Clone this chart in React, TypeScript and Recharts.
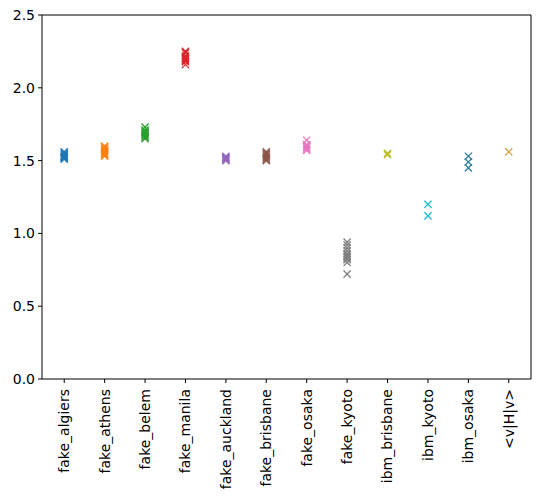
import { ScatterChart, Scatter, XAxis, YAxis, ReferenceLine } from 'recharts';

const backends = [
  'fake_algiers', 'fake_athens', 'fake_belem', 'fake_manila', 'fake_auckland', 'fake_brisbane',
  'fake_osaka', 'fake_kyoto', 'ibm_brisbane', 'ibm_kyoto', 'ibm_osaka', '<v|H|v>',
];

const algiersVals = [1.51, 1.52, 1.53, 1.54, 1.55, 1.56, 1.53, 1.52];
const athensVals = [1.53, 1.54, 1.55, 1.56, 1.57, 1.58, 1.59, 1.60];
const belemVals = [1.65, 1.66, 1.67, 1.68, 1.69, 1.70, 1.71, 1.73];
const manilaVals = [2.16, 2.18, 2.19, 2.20, 2.21, 2.22, 2.24, 2.25];
const aucklandVals = [1.50, 1.51, 1.52, 1.53, 1.51, 1.52];
const brisbaneVals = [1.50, 1.51, 1.52, 1.53, 1.54, 1.55, 1.56];
const osakaVals = [1.57, 1.58, 1.59, 1.60, 1.61, 1.64];
const kyotoVals = [0.94, 0.92, 0.90, 0.88, 0.86, 0.85, 0.84, 0.83, 0.82, 0.80, 0.72];
const ibmBrisbaneVals = [1.54, 1.55];
const ibmKyotoVals = [1.20, 1.12];
const ibmOsakaVals = [1.53, 1.49, 1.45];
const vhvVals = [1.56];

const seriesVals = [
  algiersVals, athensVals, belemVals, manilaVals, aucklandVals, brisbaneVals,
  osakaVals, kyotoVals, ibmBrisbaneVals, ibmKyotoVals, ibmOsakaVals, vhvVals,
];

const colors = [
  '#1f77b4', '#ff7f0e', '#2ca02c', '#d62728', '#9467bd', '#8c564b',
  '#e377c2', '#7f7f7f', '#bcbd22', '#17becf', '#2a7f9a', '#d9a23f',
];

const yTicks = [0, 0.5, 1.0, 1.5, 2.0, 2.5];
const xTicks = backends.map((_, i) => i);

const FONT = '"DejaVu Sans", sans-serif';

const makeCross = (color: string) => (props: any) => {
  const { cx, cy } = props;
  const s = 3.6;
  return (
    <g stroke={color} strokeWidth={1.3}>
      <line x1={cx - s} y1={cy - s} x2={cx + s} y2={cy + s} />
      <line x1={cx - s} y1={cy + s} x2={cx + s} y2={cy - s} />
    </g>
  );
};

const RotatedTick = (props: any) => {
  const { x, y, payload } = props;
  return (
    <text
      x={x}
      y={y}
      transform={`rotate(-90, ${x}, ${y})`}
      textAnchor="end"
      dy="0.35em"
      fill="#000"
      fontSize={14}
      fontFamily={FONT}
    >
      {backends[payload.value]}
    </text>
  );
};

export default function App() {
  return (
    <div style={{ position: 'absolute', left: 0, top: 0, background: '#fff' }}>
      <ScatterChart width={540} height={498} margin={{ top: 15, right: 9, bottom: 9, left: 0 }}>
        <XAxis
          type="number"
          dataKey="x"
          domain={[-0.55, 11.55]}
          ticks={xTicks}
          interval={0}
          height={110}
          tick={<RotatedTick />}
          tickSize={4}
          tickMargin={6}
          stroke="#000"
          tickLine={{ stroke: '#000' }}
          allowDataOverflow
        />
        <YAxis
          type="number"
          dataKey="y"
          domain={[0, 2.5]}
          ticks={yTicks}
          width={42}
          tickSize={4}
          tickMargin={3}
          tickFormatter={(v: number) => v.toFixed(1)}
          tick={{ fill: '#000', fontSize: 14, fontFamily: FONT }}
          stroke="#000"
          allowDataOverflow
        />
        <ReferenceLine y={2.5} stroke="#000" strokeWidth={1} />
        <ReferenceLine x={11.55} stroke="#000" strokeWidth={1} />
        {seriesVals.map((vals, i) => (
          <Scatter
            key={backends[i]}
            name={backends[i]}
            data={vals.map((v) => ({ x: i, y: v }))}
            shape={makeCross(colors[i])}
            isAnimationActive={false}
          />
        ))}
      </ScatterChart>
    </div>
  );
}
